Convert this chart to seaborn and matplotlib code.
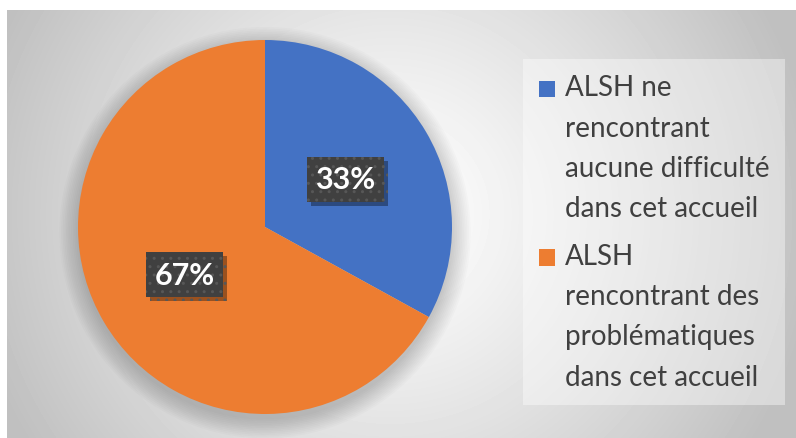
import numpy as np
import matplotlib
matplotlib.use("Agg")
import matplotlib.pyplot as plt
import matplotlib.patheffects as pe
from matplotlib.patches import Rectangle, Circle
from matplotlib.legend_handler import HandlerPatch
import seaborn as sns

# Data
labels = ["ALSH ne\nrencontrant\naucune difficulté\ndans cet accueil",
          "ALSH\nrencontrant des\nproblématiques\ndans cet accueil"]
values = [33, 67]
colors = ["#4472C4", "#ED7D31"]

sns.set_theme(style="white")
plt.rcParams["font.family"] = ["Lato", "DejaVu Sans"]

W, H = 796, 439
LS = 1.68  # legend line spacing
FS = 20

fig = plt.figure(figsize=(W / 100, H / 100), dpi=100)
fig.patch.set_facecolor("white")

# radial grey gradient background of the chart area
bg = fig.add_axes([7 / W, 0, 1 - 7 / W, 1 - 11 / H])
yy, xx = np.mgrid[11:439, 7:796]
d = np.hypot(xx - 390, yy - 215) / 430
shade = 1 - 0.25 * np.clip(d, 0, 1) ** 1.2
bg.imshow(shade, cmap="gray", vmin=0, vmax=1, aspect="auto", interpolation="bilinear")
bg.axis("off")

# pie, with a soft shadow underneath
ax = fig.add_axes([78 / W, 24 / H, 374 / W, 374 / H])
for r in np.linspace(1.0, 1.1, 12):
    ax.add_patch(Circle((0.0, -0.03), r, color="black", alpha=0.014, lw=0, zorder=0, clip_on=False))
wedges, texts, autotexts = ax.pie(values, colors=colors, startangle=90, counterclock=False,
                                  autopct="%.0f%%", pctdistance=0.5, radius=1,
                                  wedgeprops=dict(linewidth=0),
                                  textprops=dict(color="white", fontsize=22, fontweight="bold"))
for w in wedges:
    w.set_zorder(2)
ax.set_xlim(-1, 1)
ax.set_ylim(-1, 1)
for t in autotexts:
    t.set_zorder(5)
    t.set_bbox(dict(boxstyle="square,pad=0.28", fc="#404040", ec="#575757", lw=0, hatch=".."))
    t.get_bbox_patch().set_path_effects([pe.withSimplePatchShadow(offset=(3, -3), shadow_rgbFace="black", alpha=0.35), pe.Normal()])


# legend square sits next to the first line of a wrapped label
class TopSquare(HandlerPatch):
    def create_artists(self, legend, orig_handle, xdescent, ydescent, width, height, fontsize, trans):
        side = fontsize * 0.58
        n = getattr(orig_handle, "nlines", 1)
        shift = (n - 1) / 2 * fontsize * 0.85 * LS
        x = -xdescent + (width - side) / 2
        y = -ydescent + (height - side) / 2 + shift
        p = Rectangle((x, y), side, side, facecolor=orig_handle.get_facecolor(), lw=0, transform=trans)
        return [p]


handles = []
for c, lab in zip(colors, labels):
    h = Rectangle((0, 0), 1, 1, facecolor=c)
    h.nlines = lab.count("\n") + 1
    handles.append(h)

leg = fig.legend(handles, labels, loc="upper left", bbox_to_anchor=(523 / W, 1 - 60 / H),
                 borderaxespad=0, frameon=True, fancybox=False, framealpha=0.4,
                 facecolor="white", edgecolor="none",
                 handler_map={Rectangle: TopSquare()}, handlelength=0.6, handletextpad=0.36,
                 labelspacing=0.78, borderpad=0.55, fontsize=FS, labelcolor="#404040")
for t in leg.get_texts():
    t.set_linespacing(LS)

fig.savefig("out.png", dpi=100)
